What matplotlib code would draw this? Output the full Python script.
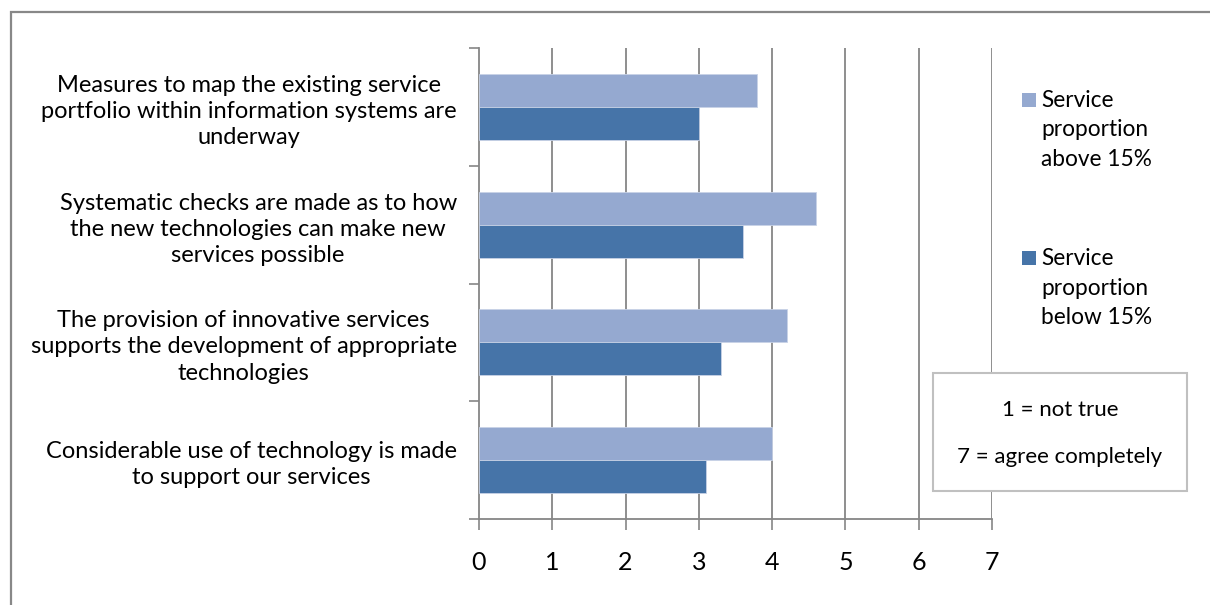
import matplotlib
matplotlib.use("Agg")
import matplotlib.pyplot as plt
from matplotlib.patches import Rectangle
import numpy as np

categories = [
    "Measures to map the existing service\nportfolio within information systems are\nunderway",
    "Systematic checks are made as to how\nthe new technologies can make new\nservices possible",
    "The provision of innovative services\nsupports the development of appropriate\ntechnologies",
    "Considerable use of technology is made\nto support our services",
]
above_15 = [3.8, 4.6, 4.2, 4.0]
below_15 = [3.0, 3.6, 3.3, 3.1]
series_labels = ["Service\nproportion\nabove 15%", "Service\nproportion\nbelow 15%"]
x_ticks = [0, 1, 2, 3, 4, 5, 6, 7]
note_lines = ["1 = not true", "7 = agree completely"]

LIGHT = "#95A9D0"
DARK = "#4674A8"
GRID = "#868686"
FONT = "Lato"

W, H = 1210, 605
fig = plt.figure(figsize=(W / 100, H / 100), dpi=100)
fig.patch.set_facecolor("white")

def fx(px):
    return px / W

def fy(py):
    return 1 - py / H

# outer frame (only top and left visible)
fig.add_artist(Rectangle((fx(11), fy(700)), fx(1300), fy(12) - fy(700),
                         transform=fig.transFigure, fill=False,
                         edgecolor="#888888", linewidth=1.6))

ax = fig.add_axes([fx(479), fy(519), fx(992) - fx(479), fy(48) - fy(519)])
ax.set_facecolor("none")

y = np.arange(len(categories))
h = 0.28
ax.barh(y - h / 2, above_15, height=h, color=LIGHT, edgecolor="#c8d2e6", linewidth=0.6, zorder=3)
ax.barh(y + h / 2, below_15, height=h, color=DARK, edgecolor="#c8d2e6", linewidth=0.6, zorder=3)

ax.set_xlim(0, 7)
ax.set_ylim(len(categories) - 0.5, -0.5)

ax.set_xticks(x_ticks)
ax.set_xticklabels([str(t) for t in x_ticks], fontsize=18, family=FONT)
ax.tick_params(axis="x", length=8, width=1.2, color=GRID, pad=15, direction="out")

ax.set_yticks(y)
ax.set_yticklabels(categories, fontsize=17, family=FONT, multialignment="center",
                   linespacing=1.3)
ax.tick_params(axis="y", which="major", length=0, pad=16)
ax.set_yticks(np.arange(-0.5, len(categories)), minor=True)
ax.tick_params(axis="y", which="minor", length=7, width=1.2, color=GRID, direction="out")

for xv in x_ticks[1:]:
    ax.axvline(xv, color=GRID, linewidth=1.3, zorder=1)

for s in ["top", "right"]:
    ax.spines[s].set_visible(False)
for s in ["left", "bottom"]:
    ax.spines[s].set_color(GRID)
    ax.spines[s].set_linewidth(1.3)

# legend
for color, label, top in [(LIGHT, series_labels[0], 93), (DARK, series_labels[1], 251)]:
    fig.add_artist(Rectangle((fx(1022), fy(top + 14)), fx(14), fy(top) - fy(top + 14),
                             transform=fig.transFigure, facecolor=color, edgecolor="none"))
    fig.text(fx(1041), fy(top - 3), label, fontsize=16.3, family=FONT, ha="left",
             va="top", linespacing=1.5)

# note box
fig.add_artist(Rectangle((fx(933), fy(491)), fx(1187) - fx(933), fy(373) - fy(491),
                         transform=fig.transFigure, facecolor="white",
                         edgecolor="#c0c0c0", linewidth=1.5, zorder=5))
fig.text(fx(1060), fy(410), note_lines[0], fontsize=16, family=FONT, ha="center",
         va="center", zorder=6)
fig.text(fx(1060), fy(457), note_lines[1], fontsize=16, family=FONT, ha="center",
         va="center", zorder=6)

fig.savefig("out.png", dpi=100, facecolor="white")
